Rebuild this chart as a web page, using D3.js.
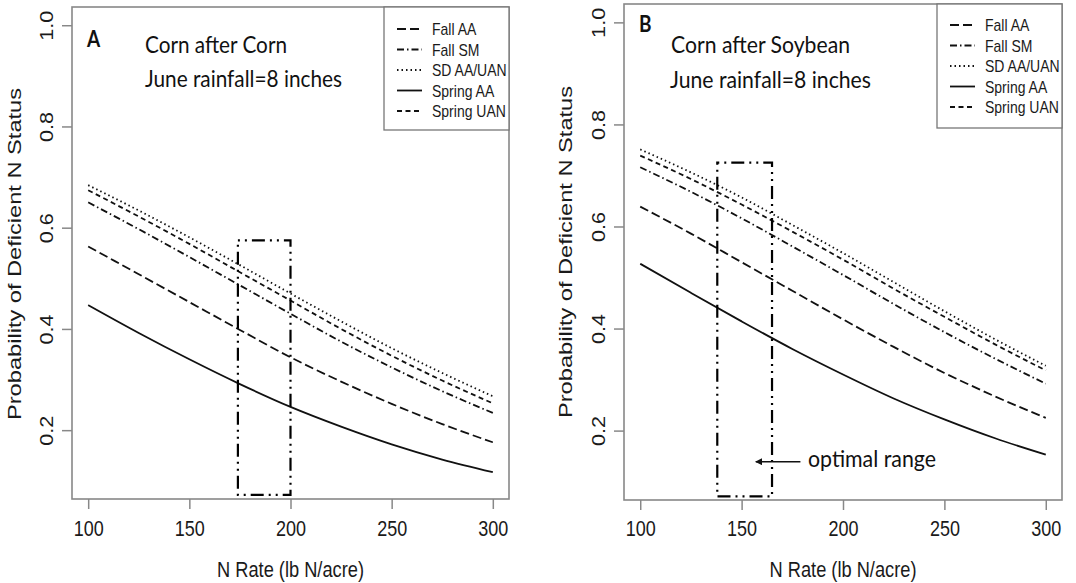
<!DOCTYPE html>
<html>
<head>
<meta charset="utf-8">
<script src="https://cdn.jsdelivr.net/npm/d3@7"></script>
<style>
  body { margin: 0; background: #fff; }
  svg { display: block; font-family: Arial, "Liberation Sans", sans-serif; }
</style>
</head>
<body>
<svg id="chart" width="1076" height="583"></svg>
<script>
// N rates the curves were read at
var nRates = [100, 125, 150, 175, 200, 225, 250, 275, 300];
var seriesNames = ["Fall AA", "Fall SM", "SD AA/UAN", "Spring AA", "Spring UAN"];
var xTicks = [100, 150, 200, 250, 300];
var yTicks = [0.2, 0.4, 0.6, 0.8, 1.0];

// panel A - corn after corn
var ccFallAA    = [0.563, 0.508, 0.453, 0.398, 0.344, 0.296, 0.252, 0.212, 0.176];
var ccFallSM    = [0.650, 0.597, 0.542, 0.486, 0.430, 0.375, 0.324, 0.277, 0.234];
var ccSD        = [0.684, 0.634, 0.581, 0.526, 0.470, 0.415, 0.362, 0.313, 0.267];
var ccSpringAA  = [0.447, 0.392, 0.340, 0.291, 0.246, 0.207, 0.172, 0.142, 0.117];
var ccSpringUAN = [0.674, 0.622, 0.568, 0.512, 0.456, 0.400, 0.347, 0.298, 0.253];

// panel B - corn after soybean
var csFallAA    = [0.639, 0.586, 0.530, 0.474, 0.418, 0.364, 0.313, 0.267, 0.225];
var csFallSM    = [0.716, 0.668, 0.616, 0.561, 0.505, 0.448, 0.393, 0.341, 0.292];
var csSD        = [0.751, 0.706, 0.657, 0.603, 0.548, 0.491, 0.434, 0.379, 0.327];
var csSpringAA  = [0.527, 0.470, 0.414, 0.360, 0.310, 0.263, 0.222, 0.185, 0.153];
var csSpringUAN = [0.739, 0.693, 0.643, 0.590, 0.535, 0.478, 0.423, 0.369, 0.318];

// optimal range boxes: [N low, N high] and [prob low, prob high]
var ccOptimalN = [174, 200];
var ccOptimalP = [0.072, 0.575];
var csOptimalN = [138, 165];
var csOptimalP = [0.071, 0.725];

// arrow + label for the optimal range (panel B)
var arrowN = [179, 157];
var arrowP = 0.139;

// line styles, one per series
var dashes = ["9,4", "7,3,1.5,3", "1.5,3", null, "5,3.5"];

var SY = 1.2; // the original picture is stretched vertically

var svg = d3.select("#chart");
svg.append("rect").attr("width", 1076).attr("height", 583).attr("fill", "#fff");

function drawPanel(p) {
    var x = d3.scaleLinear().domain([92, 308]).range([p.left, p.right]);
    var y = d3.scaleLinear().domain([0.064, 1.036]).range([p.bottom, p.top]);
    var g = svg.append("g");

    // curves
    var line = d3.line()
        .x(function (d) { return x(d[0]); })
        .y(function (d) { return y(d[1]); })
        .curve(d3.curveMonotoneX);

    p.series.forEach(function (vals, i) {
        g.append("path")
            .attr("d", line(nRates.map(function (n, j) { return [n, vals[j]]; })))
            .attr("fill", "none")
            .attr("stroke", "#111")
            .attr("stroke-width", 1.8)
            .attr("stroke-dasharray", dashes[i]);
    });

    // optimal range box
    g.append("rect")
        .attr("x", x(p.optN[0]))
        .attr("y", y(p.optP[1]))
        .attr("width", x(p.optN[1]) - x(p.optN[0]))
        .attr("height", y(p.optP[0]) - y(p.optP[1]))
        .attr("fill", "none")
        .attr("stroke", "#000")
        .attr("stroke-width", 2.2)
        .attr("stroke-dasharray", "2,5,2,5,13,5");

    // axes
    var xAxis = g.append("g")
        .attr("transform", "translate(0," + p.bottom + ")")
        .call(d3.axisBottom(x).tickValues(xTicks).tickSize(10).tickSizeOuter(0));
    xAxis.select(".domain").remove();
    xAxis.selectAll("line").attr("stroke", "#888").attr("stroke-width", 1.5);
    xAxis.selectAll("text")
        .attr("y", null).attr("dy", null)
        .attr("transform", "translate(0," + (536 - p.bottom) + ") scale(1,1.24)")
        .attr("font-size", 18).attr("font-family", "Arial, 'Liberation Sans', sans-serif")
        .attr("fill", "#1a1a1a");

    var yAxis = g.append("g")
        .attr("transform", "translate(" + p.left + ",0)")
        .call(d3.axisLeft(y).tickValues(yTicks).tickSize(10).tickSizeOuter(0).tickFormat(d3.format(".1f")));
    yAxis.select(".domain").remove();
    yAxis.selectAll("line").attr("stroke", "#888").attr("stroke-width", 1.5);
    yAxis.selectAll("text")
        .attr("x", null).attr("dy", null)
        .attr("text-anchor", "middle")
        .attr("transform", "translate(-19,0) scale(1," + SY + ") rotate(-90)")
        .attr("font-size", 18).attr("font-family", "Arial, 'Liberation Sans', sans-serif")
        .attr("fill", "#1a1a1a");

    // frame
    g.append("rect")
        .attr("x", p.left).attr("y", p.top)
        .attr("width", p.right - p.left).attr("height", p.bottom - p.top)
        .attr("fill", "none").attr("stroke", "#888").attr("stroke-width", 1.6);

    // axis titles
    g.append("text")
        .attr("transform", "translate(" + (x(100) + x(300)) / 2 + ",577) scale(1," + SY + ")")
        .attr("text-anchor", "middle")
        .attr("font-size", 18).attr("fill", "#1a1a1a")
        .attr("textLength", 147).attr("lengthAdjust", "spacingAndGlyphs")
        .text("N Rate (lb N/acre)");

    g.append("text")
        .attr("transform", "translate(" + p.yTitleX + "," + p.yTitleY + ") scale(1," + SY + ") rotate(-90)")
        .attr("text-anchor", "middle")
        .attr("font-size", 18).attr("fill", "#1a1a1a")
        .attr("textLength", 332 / SY).attr("lengthAdjust", "spacingAndGlyphs")
        .text("Probability of Deficient N Status");

    // legend
    var leg = g.append("g");
    leg.append("rect")
        .attr("x", p.legX).attr("y", p.top)
        .attr("width", p.right - p.legX).attr("height", p.legBottom - p.top)
        .attr("fill", "#fff").attr("stroke", "#777").attr("stroke-width", 1.3);
    seriesNames.forEach(function (name, i) {
        var ry = p.legRow0 + i * 20.5;
        leg.append("line")
            .attr("x1", p.legX + 13).attr("x2", p.legX + 38)
            .attr("y1", ry).attr("y2", ry)
            .attr("stroke", "#111").attr("stroke-width", 1.8)
            .attr("stroke-dasharray", dashes[i]);
        leg.append("text")
            .attr("transform", "translate(" + (p.legX + 48) + "," + (ry + 6) + ") scale(1," + SY + ")")
            .attr("font-size", 14).attr("fill", "#1a1a1a")
            .text(name);
    });

    // panel letter and notes
    g.append("text")
        .attr("transform", "translate(" + p.letterX + "," + p.letterY + ") scale(1," + SY + ")")
        .attr("font-family", "Lato, 'Open Sans', sans-serif")
        .attr("font-weight", "bold").attr("font-size", 19).attr("fill", "#111")
        .text(p.letter);
    p.notes.forEach(function (nt) {
        g.append("text")
            .attr("transform", "translate(" + nt.x + "," + nt.y + ") scale(1," + SY + ")")
            .attr("font-family", "Lato, 'Open Sans', sans-serif")
            .attr("font-size", 20).attr("fill", "#111")
            .attr("textLength", nt.w).attr("lengthAdjust", "spacingAndGlyphs")
            .text(nt.text);
    });

    return { x: x, y: y, g: g };
}

drawPanel({
    left: 72, right: 509, top: 7, bottom: 499,
    series: [ccFallAA, ccFallSM, ccSD, ccSpringAA, ccSpringUAN],
    optN: ccOptimalN, optP: ccOptimalP,
    yTitleX: 21, yTitleY: 254,
    legX: 384, legBottom: 130, legRow0: 29,
    letter: "A", letterX: 87, letterY: 47,
    notes: [
        { text: "Corn after Corn", x: 145, y: 53, w: 142 },
        { text: "June rainfall=8 inches", x: 145, y: 87, w: 197 }
    ]
});

var pb = drawPanel({
    left: 624, right: 1062, top: 4, bottom: 500,
    series: [csFallAA, csFallSM, csSD, csSpringAA, csSpringUAN],
    optN: csOptimalN, optP: csOptimalP,
    yTitleX: 572, yTitleY: 252,
    legX: 937, legBottom: 128, legRow0: 25,
    letter: "B", letterX: 639, letterY: 32,
    notes: [
        { text: "Corn after Soybean", x: 671, y: 53, w: 179 },
        { text: "June rainfall=8 inches", x: 670, y: 88, w: 201 }
    ]
});

// arrow pointing into the optimal range
svg.append("defs").append("marker")
    .attr("id", "arrowhead")
    .attr("viewBox", "0 0 10 10")
    .attr("refX", 9).attr("refY", 5)
    .attr("markerWidth", 7).attr("markerHeight", 7)
    .attr("markerUnits", "userSpaceOnUse")
    .attr("orient", "auto")
    .append("path").attr("d", "M0,0 L10,5 L0,10 z").attr("fill", "#111");

pb.g.append("line")
    .attr("x1", pb.x(arrowN[0])).attr("x2", pb.x(arrowN[1]))
    .attr("y1", pb.y(arrowP)).attr("y2", pb.y(arrowP))
    .attr("stroke", "#111").attr("stroke-width", 1.4)
    .attr("marker-end", "url(#arrowhead)");

pb.g.append("text")
    .attr("transform", "translate(808,467) scale(1," + SY + ")")
    .attr("font-family", "Lato, 'Open Sans', sans-serif")
    .attr("font-size", 20).attr("fill", "#111")
    .attr("textLength", 128).attr("lengthAdjust", "spacingAndGlyphs")
    .text("optimal range");
</script>
</body>
</html>
